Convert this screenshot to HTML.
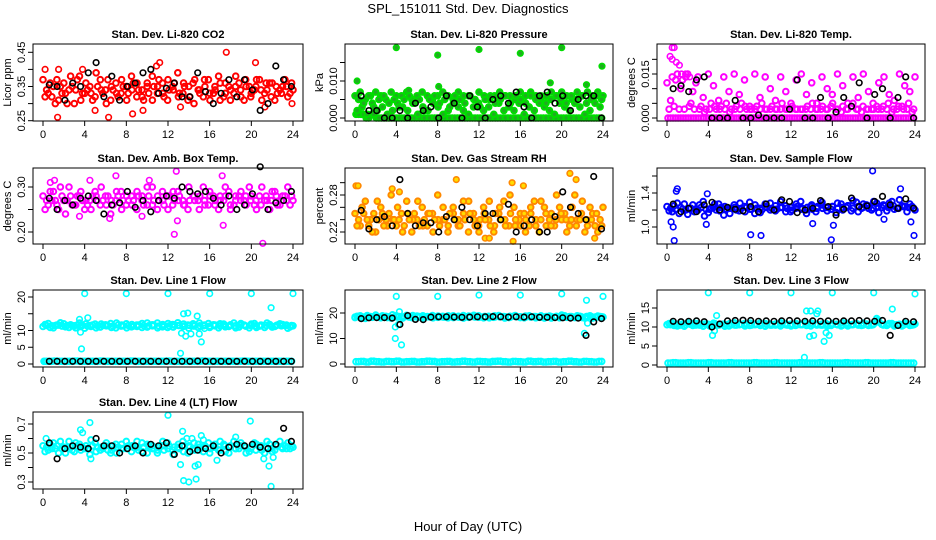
<!DOCTYPE html>
<html><head><meta charset="utf-8">
<style>
body{margin:0;background:#fff;}
svg{display:block;font-family:"Liberation Sans",sans-serif;}
</style></head>
<body>
<svg id="chart" width="936" height="540" viewBox="0 0 936 540" xmlns="http://www.w3.org/2000/svg">
<rect x="0" y="0" width="936" height="540" fill="#fff"/>
<text x="468" y="13" text-anchor="middle" font-size="13">SPL_151011  Std. Dev. Diagnostics</text>
<text x="468" y="531" text-anchor="middle" font-size="13">Hour of Day (UTC)</text>
</svg>
<script>
// x-axis ticks
const hourTicks = [0,4,8,12,16,20,24];
// ---- Panel 1: CO2
const co2A = [0.37,0.33,0.35,0.31,0.36,0.34,0.30,0.38,0.33,0.35,0.32,0.37,0.34,0.31,0.36,0.33,0.35,0.38,0.32,0.34,0.36,0.31,0.35,0.33,0.37,0.34,0.32,0.36,0.35,0.30,0.34,0.37,0.33,0.35,0.31,0.36,0.34,0.38,0.32,0.35,0.33,0.37,0.31,0.34,0.36,0.33,0.35,0.32,0.34];
const co2B = [0.32,0.36,0.30,0.35,0.33,0.38,0.34,0.31,0.36,0.33,0.39,0.34,0.30,0.35,0.33,0.37,0.31,0.34,0.36,0.32,0.35,0.38,0.33,0.36,0.31,0.35,0.39,0.33,0.31,0.36,0.34,0.32,0.37,0.33,0.38,0.32,0.35,0.33,0.36,0.31,0.35,0.34,0.37,0.33,0.36,0.31,0.34,0.37,0.33];
const co2C = [0.34,0.32,0.37,0.33,0.30,0.35,0.37,0.33,0.34,0.31,0.35,0.33,0.37,0.34,0.32,0.35,0.33,0.36,0.34,0.31,0.33,0.35,0.37,0.32,0.34,0.36,0.33,0.35,0.32,0.37,0.33,0.35,0.31,0.34,0.36,0.33,0.31,0.35,0.34,0.37,0.32,0.35,0.34,0.36,0.32,0.35,0.33,0.35,0.36];
const co2OutHours = [1.4,6.3,8.6,17.6,11.2,20.4,5.0,9.6,1.5,3.8,13.2,21.3,23.9,0.2,10.9];
const co2OutVals  = [0.26,0.26,0.27,0.45,0.42,0.42,0.28,0.28,0.40,0.40,0.29,0.29,0.30,0.40,0.41];
const co2Black = [0.355,0.35,0.31,0.36,0.35,0.39,0.42,0.32,0.38,0.31,0.35,0.36,0.39,0.40,0.33,0.345,0.36,0.32,0.32,0.39,0.335,0.30,0.33,0.37,0.32,0.37,0.34,0.28,0.30,0.41,0.37,0.35];
// ---- Panel 2: Pressure
const presA = [0.006,0.007,0.005,0.006,0.007,0.006,0.005,0.007,0.006,0.006,0.007,0.005,0.006,0.007,0.006,0.005,0.006,0.007,0.006,0.005,0.007,0.006,0.006,0.005,0.007,0.006,0.005,0.006,0.007,0.006,0.006,0.005,0.007,0.006,0.007,0.006,0.005,0.006,0.007,0.006,0.007,0.006,0.005,0.007,0.006,0.007,0.006,0.007,0.006];
const presB = [0.002,0.003,0.001,0.004,0.002,0.003,0.001,0.002,0.004,0.003,0.002,0.004,0.001,0.003,0.002,0.004,0.003,0.001,0.002,0.004,0.003,0.002,0.001,0.003,0.004,0.002,0.003,0.001,0.004,0.002,0.003,0.002,0.004,0.001,0.003,0.002,0.004,0.003,0.002,0.001,0.004,0.003,0.002,0.004,0.003,0.001,0.002,0.004,0.003];
const presC = [0.005,0.004,0.006,0.003,0.005,0.006,0.004,0.005,0.003,0.005,0.006,0.004,0.005,0.002,0.005,0.006,0.004,0.005,0.003,0.006,0.005,0.004,0.006,0.005,0.003,0.005,0.006,0.004,0.005,0.006,0.004,0.006,0.005,0.004,0.006,0.005,0.006,0.004,0.005,0.006,0.005,0.004,0.006,0.005,0.006,0.004,0.005,0.006,0.005];
const presZ = [0.001,0.001,0.000,0.001,0.000,0.000,0.000,0.000,0.000,0.000,0.000,0.000,0.000,0.000,0.000,0.000,0.000,0.000,0.000,0.000,0.000,0.000,0.000,0.000,0.000,0.000,0.000,0.000,0.000,0.000,0.000,0.000,0.000,0.000,0.000,0.000,0.000,0.000,0.000,0.000,0.000,0.000,0.000,0.000,0.000,0.000,0.000,0.000,0.000];
const presOutHours = [0.2,4.0,8.0,8.1,12.0,16.0,18.9,20.0,22.4,23.9,5.2];
const presOutVals  = [0.010,0.019,0.017,0.0085,0.0185,0.0175,0.0095,0.019,0.009,0.014,0.0075];
const presBlack = [0.006,0.002,0.002,0.000,0.000,0.002,0.000,0.004,0.002,0.003,0.000,0.006,0.004,0.000,0.006,0.003,0.000,0.005,0.006,0.004,0.007,0.003,0.000,0.006,0.007,0.004,0.006,0.002,0.005,0.006,0.006,0.000];
// ---- Panel 3: Li-820 Temp
const tempA = [0.012,0.014,0.015,0.013,0.015,0.009,0.014,0.007,0.015,0.011,0.006,0.014,0.009,0.015,0.008,0.013,0.004,0.015,0.007,0.014,0.010,0.006,0.014,0.009,0.005,0.013,0.015,0.008,0.012,0.005,0.014,0.010,0.008,0.015,0.011,0.005,0.014,0.007,0.015,0.009,0.003,0.012,0.014,0.008,0.006,0.015,0.011,0.009,0.014];
const tempB = [0.003,0.004,0.003,0.003,0.004,0.003,0.003,0.002,0.003,0.004,0.003,0.003,0.002,0.003,0.003,0.004,0.003,0.003,0.003,0.003,0.003,0.003,0.003,0.003,0.003,0.003,0.003,0.003,0.003,0.003,0.003,0.003,0.004,0.003,0.002,0.003,0.004,0.003,0.002,0.003,0.003,0.004,0.003,0.003,0.002,0.003,0.004,0.003,0.002];
const tempC = [0.006,0.013,0.010,0.014,0.005,0.012,0.004,0.003,0.005,0.003,0.004,0.005,0.003,0.004,0.005,0.003,0.003,0.004,0.005,0.003,0.004,0.003,0.005,0.003,0.004,0.003,0.003,0.004,0.005,0.003,0.004,0.003,0.005,0.003,0.004,0.003,0.005,0.003,0.004,0.003,0.005,0.003,0.004,0.005,0.003,0.004,0.003,0.005,0.003];
const tempZ = [0,0,0,0,0,0,0,0,0,0,0,0,0,0,0,0,0,0,0,0,0,0,0,0,0,0,0,0,0,0,0,0,0,0,0,0,0,0,0,0,0,0,0,0,0,0,0,0,0];
const tempOutHours = [0.5,0.7,0.3,0.5,0.9,1.2,1.0,1.4,1.8,2.2];
const tempOutVals  = [0.024,0.024,0.021,0.020,0.019,0.018,0.015,0.015,0.015,0.014];
const tempBlack = [0.010,0.011,0.009,0.013,0.014,0.000,0.000,0.000,0.006,0.000,0.000,0.001,0.000,0.000,0.000,0.003,0.013,0.000,0.000,0.007,0.000,0.002,0.007,0.004,0.012,0.000,0.008,0.010,0.000,0.007,0.014,0.000];
// ---- Panel 4: Amb Box Temp
const ambA = [0.28,0.26,0.29,0.25,0.27,0.30,0.26,0.28,0.25,0.27,0.29,0.26,0.28,0.24,0.27,0.29,0.26,0.28,0.25,0.27,0.30,0.26,0.28,0.27,0.25,0.29,0.27,0.26,0.30,0.28,0.25,0.27,0.29,0.26,0.28,0.30,0.25,0.27,0.29,0.26,0.28,0.25,0.30,0.27,0.29,0.26,0.28,0.30,0.27];
const ambB = [0.25,0.29,0.27,0.30,0.24,0.28,0.26,0.29,0.27,0.25,0.28,0.30,0.26,0.27,0.29,0.25,0.28,0.26,0.29,0.28,0.26,0.30,0.25,0.29,0.28,0.26,0.29,0.27,0.25,0.28,0.27,0.30,0.26,0.28,0.25,0.27,0.29,0.26,0.28,0.27,0.30,0.26,0.28,0.27,0.25,0.29,0.26,0.28,0.26];
const ambC = [0.27,0.27,0.26,0.28,0.27,0.26,0.28,0.27,0.26,0.28,0.27,0.27,0.28,0.26,0.28,0.27,0.27,0.27,0.28,0.26,0.28,0.27,0.27,0.26,0.28,0.27,0.28,0.26,0.27,0.27,0.28,0.26,0.28,0.27,0.27,0.28,0.26,0.28,0.27,0.28,0.27,0.27,0.26,0.28,0.27,0.28,0.27,0.27,0.28];
const ambOutHours = [0.7,1.1,4.5,6.4,7.0,10.2,12.6,12.8,12.9,17.2,17.3,21.1,3.5,9.5];
const ambOutVals  = [0.31,0.315,0.315,0.23,0.325,0.315,0.195,0.335,0.225,0.325,0.215,0.175,0.235,0.235];
const ambBlack = [0.275,0.25,0.27,0.26,0.275,0.28,0.27,0.24,0.26,0.265,0.29,0.255,0.27,0.245,0.27,0.28,0.275,0.30,0.29,0.285,0.29,0.275,0.26,0.28,0.25,0.26,0.285,0.345,0.25,0.265,0.27,0.29];
// ---- Panel 5: Gas Stream RH
const rhA = [0.25,0.23,0.27,0.24,0.22,0.26,0.24,0.28,0.23,0.25,0.27,0.22,0.24,0.26,0.23,0.25,0.28,0.24,0.22,0.26,0.23,0.25,0.27,0.24,0.22,0.25,0.27,0.23,0.26,0.24,0.28,0.23,0.25,0.22,0.26,0.24,0.27,0.23,0.25,0.28,0.24,0.22,0.26,0.24,0.27,0.23,0.25,0.22,0.26];
const rhB = [0.23,0.26,0.24,0.22,0.27,0.25,0.23,0.24,0.26,0.22,0.25,0.24,0.27,0.23,0.25,0.22,0.24,0.26,0.23,0.25,0.24,0.27,0.22,0.25,0.23,0.26,0.24,0.22,0.25,0.27,0.23,0.26,0.24,0.25,0.23,0.27,0.22,0.26,0.24,0.23,0.26,0.25,0.23,0.28,0.24,0.22,0.26,0.23,0.24];
const rhC = [0.24,0.25,0.23,0.25,0.24,0.23,0.25,0.24,0.24,0.23,0.24,0.25,0.23,0.24,0.25,0.24,0.23,0.24,0.25,0.24,0.23,0.24,0.25,0.23,0.24,0.24,0.23,0.25,0.24,0.23,0.25,0.24,0.23,0.24,0.25,0.23,0.24,0.25,0.23,0.24,0.25,0.24,0.24,0.23,0.25,0.24,0.24,0.25,0.23];
const rhOutHours = [0.1,0.3,3.6,9.8,15.2,15.3,12.6,13.0,20.8,21.4,23.2,4.3,16.3];
const rhOutVals  = [0.295,0.295,0.29,0.305,0.30,0.205,0.21,0.21,0.315,0.305,0.21,0.285,0.295];
const rhBlack = [0.255,0.225,0.24,0.245,0.23,0.305,0.25,0.23,0.235,0.235,0.22,0.245,0.24,0.26,0.24,0.23,0.25,0.25,0.24,0.265,0.22,0.23,0.24,0.22,0.22,0.245,0.285,0.26,0.25,0.24,0.31,0.225];
// ---- Panel 6: Sample Flow
const sampA = [1.24,1.18,1.28,1.21,1.15,1.26,1.2,1.3,1.17,1.23,1.27,1.14,1.22,1.26,1.19,1.24,1.29,1.16,1.22,1.27,1.2,1.25,1.3,1.18,1.23,1.27,1.21,1.16,1.26,1.22,1.29,1.19,1.24,1.28,1.2,1.25,1.31,1.18,1.27,1.22,1.3,1.17,1.25,1.28,1.21,1.32,1.24,1.27,1.2];
const sampB = [1.19,1.25,1.16,1.27,1.22,1.18,1.26,1.13,1.21,1.27,1.19,1.24,1.16,1.23,1.28,1.18,1.21,1.26,1.17,1.24,1.28,1.19,1.23,1.25,1.18,1.22,1.3,1.2,1.24,1.18,1.26,1.23,1.21,1.17,1.27,1.23,1.19,1.29,1.22,1.26,1.2,1.28,1.23,1.19,1.3,1.22,1.25,1.18,1.24];
const sampC = [1.22,1.21,1.23,1.2,1.22,1.21,1.23,1.21,1.22,1.2,1.23,1.21,1.22,1.2,1.22,1.23,1.21,1.22,1.2,1.23,1.22,1.21,1.23,1.22,1.2,1.24,1.22,1.23,1.21,1.24,1.22,1.23,1.24,1.22,1.23,1.25,1.22,1.24,1.23,1.25,1.22,1.24,1.26,1.23,1.25,1.22,1.24,1.23,1.22];
const sampOutHours = [0.7,0.6,0.4,1.0,0.9,3.9,3.8,8.1,9.1,15.9,16.1,19.9,22.6,23.6,23.9,21.0,14.1];
const sampOutVals  = [0.84,1.0,1.06,1.45,1.42,1.39,1.03,0.91,0.9,0.85,1.02,1.66,1.45,1.06,0.9,1.09,1.04];
const sampBlack = [1.27,1.18,1.22,1.18,1.26,1.29,1.2,1.23,1.21,1.19,1.24,1.18,1.27,1.2,1.32,1.3,1.17,1.2,1.22,1.31,1.24,1.14,1.21,1.34,1.24,1.25,1.3,1.36,1.26,1.22,1.33,1.22];
// ---- Panel 7: Line 1 Flow
const l1A = [11.2,12.1,10.8,11.6,12.0,10.9,11.4,12.2,10.7,11.5,11.9,11.0,11.7,12.1,10.8,11.3,12.0,11.1,11.6,10.9,12.2,11.4,10.8,11.8,12.1,11.0,11.5,11.9,10.7,11.3,12.2,11.6,10.9,11.4,12.0,11.1,11.7,10.8,12.1,11.3,11.9,10.9,11.5,12.2,11.0,11.6,11.8,10.7,11.4];
const l1B = [11.8,10.9,11.5,12.3,11.1,11.7,10.8,11.3,12.0,11.2,10.8,11.9,11.4,10.9,12.2,11.6,10.8,11.8,11.2,12.1,11.0,11.7,12.2,11.1,10.9,11.8,12.3,11.2,11.6,12.0,10.9,11.4,12.1,11.7,10.8,11.9,11.2,12.2,11.0,11.6,10.8,12.1,11.3,10.9,11.8,11.2,12.0,11.5,11.1];
const l1C = [11.5,11.4,11.6,11.3,11.5,11.4,11.6,11.5,11.3,11.6,11.4,11.5,11.5,11.3,11.6,11.4,11.5,11.3,11.6,11.5,11.4,11.6,11.3,11.5,11.4,11.6,11.5,11.3,11.5,11.6,11.4,11.5,11.3,11.6,11.4,11.5,11.5,11.4,11.6,11.3,11.5,11.4,11.6,11.5,11.3,11.5,11.4,11.6,11.5];
const l1Z = [0.8,0.8,0.9,0.8,0.8,0.8,0.9,0.8,0.8,0.8,0.8,0.9,0.8,0.8,0.8,0.8,0.8,0.9,0.8,0.8,0.8,0.8,0.8,0.8,0.9,0.8,0.8,0.8,0.8,0.8,0.8,0.9,0.8,0.8,0.8,0.8,0.8,0.8,0.8,0.9,0.8,0.8,0.8,0.8,0.8,0.8,0.8,0.8,0.8];
const l1OutHours = [0.2,3.7,3.6,3.5,4.3,4.0,8.0,12.0,16.0,20.0,24.0,13.2,13.5,13.9,13.3,13.7,14.2,14.8,15.2,15.0,21.9,15.5];
const l1OutVals  = [0.8,4.5,9.5,13.3,13.8,21,21,21,21,21,21,3.2,15,15.2,9.2,8.3,9.0,14.3,6.6,9.0,16.8,10.6];
const l1Black = [0.8,0.8,0.8,0.8,0.8,0.8,0.8,0.8,0.8,0.8,0.8,0.8,0.8,0.8,0.8,0.8,0.8,0.8,0.8,0.9,0.8,0.8,0.8,0.8,0.8,0.8,0.8,0.8,0.8,0.8,0.8,0.8];
// ---- Panel 8: Line 2 Flow
const l2A = [18.2,18.9,17.9,18.6,19.2,18.1,18.7,18.0,18.9,18.4,19.1,18.2,18.8,18.0,18.6,19.0,18.3,18.7,18.1,18.9,18.4,18.0,18.8,19.1,18.3,18.6,18.1,18.9,18.5,18.0,18.7,19.0,18.2,18.8,18.4,18.1,18.9,18.6,18.0,18.7,19.2,18.3,18.5,18.9,18.2,18.6,18.0,18.8,18.4];
const l2B = [18.7,18.0,19.0,18.3,18.5,18.9,18.2,19.3,18.4,18.0,18.6,19.0,18.3,18.9,18.5,18.1,18.8,18.4,18.9,18.2,18.7,19.0,18.3,18.6,18.9,18.1,18.7,18.3,19.0,18.6,18.2,18.8,18.5,18.1,18.9,18.6,18.3,18.0,18.8,18.4,18.1,18.9,18.6,18.2,18.7,18.0,18.9,18.4,18.6];
const l2C = [18.5,18.4,18.6,18.5,18.3,18.6,18.5,18.4,18.6,18.5,18.4,18.5,18.6,18.4,18.5,18.6,18.5,18.4,18.6,18.5,18.4,18.5,18.6,18.4,18.5,18.6,18.4,18.5,18.6,18.5,18.4,18.6,18.5,18.4,18.5,18.6,18.4,18.5,18.6,18.5,18.4,18.5,18.6,18.4,18.5,18.6,18.5,18.4,18.5];
const l2Z = [0.9,1.0,0.8,1.1,0.9,0.8,1.0,0.9,1.1,0.8,0.9,1.0,0.8,0.9,1.1,1.0,0.8,0.9,1.0,0.8,0.9,1.1,0.9,0.8,1.0,0.9,0.8,1.0,1.1,0.9,0.8,1.0,0.9,0.8,1.1,0.9,1.0,0.8,0.9,1.0,0.8,0.9,1.1,0.9,0.8,1.0,0.9,0.8,1.0];
const l2OutHours = [3.9,3.9,4.0,4.2,4.3,4.5,8.0,12.0,16.0,20.0,22.4,22.2,22.5,24.0,0.0];
const l2OutVals  = [14.5,10,26.5,15.5,20.5,7.5,26.5,27,27,27.5,25,12,16,26.5,18.5];
const l2Black = [17.8,18.1,18.2,18.2,18.0,15.5,19.0,17.5,17.4,18.4,18.5,18.5,18.4,18.3,18.4,18.5,18.5,18.6,18.5,18.4,18.5,18.4,18.5,18.3,18.3,18.2,18.1,18.0,18.0,11.2,16.5,17.8];
// ---- Panel 9: Line 3 Flow
const l3A = [10.6,11.0,10.3,10.8,11.1,10.4,10.9,10.2,10.7,11.0,10.5,10.8,10.3,11.1,10.6,10.9,10.4,10.7,11.0,10.2,10.8,10.5,11.1,10.6,10.3,10.9,10.7,10.4,11.0,10.5,10.8,10.2,10.9,10.6,11.1,10.3,10.7,10.5,11.0,10.4,10.8,11.3,10.6,10.9,10.3,10.7,11.0,10.4,10.8];
const l3B = [10.9,10.4,10.7,10.2,10.8,11.0,10.5,10.8,10.3,10.9,10.6,10.2,10.9,10.5,10.7,10.3,11.0,10.6,10.4,10.9,10.5,10.8,10.3,10.9,10.7,10.4,10.6,11.0,10.3,10.8,10.5,10.9,10.4,10.7,10.3,11.0,10.6,10.9,10.4,10.8,10.5,12.2,10.7,10.4,10.9,10.6,10.3,10.8,10.5];
const l3C = [10.6,10.7,10.5,10.6,10.7,10.5,10.6,10.7,10.6,10.5,10.7,10.6,10.6,10.5,10.7,10.6,10.5,10.7,10.6,10.6,10.5,10.7,10.6,10.5,10.7,10.6,10.6,10.5,10.7,10.6,10.5,10.6,10.7,10.6,10.5,10.7,10.6,10.6,10.5,10.7,10.6,11.8,10.5,10.7,10.6,10.6,10.5,10.7,10.6];
const l3Z = [0.5,0.6,0.5,0.5,0.6,0.5,0.5,0.5,0.6,0.5,0.5,0.5,0.6,0.5,0.5,0.5,0.5,0.6,0.5,0.5,0.5,0.6,0.5,0.5,0.5,0.5,0.6,0.5,0.5,0.5,0.6,0.5,0.5,0.5,0.5,0.6,0.5,0.5,0.5,0.6,0.5,0.5,0.5,0.5,0.6,0.5,0.5,0.5,0.5];
const l3OutHours = [4.0,8.0,12.0,16.0,20.0,24.0,4.4,4.6,4.8,13.3,13.5,13.9,14.5,14.6,13.8,14.2,15.2,15.4,15.7,21.8];
const l3OutVals  = [19,19,19,19,19,18.7,7.8,9,13,2,14.2,14.2,13.5,14.2,7.5,7.8,6.2,8.5,7.8,14.7];
const l3Black = [11.5,11.4,11.5,11.6,11.4,10.0,10.8,11.6,11.7,11.8,11.7,11.5,11.6,11.5,11.6,11.7,11.6,11.5,11.6,11.5,11.6,11.5,11.6,11.6,11.7,11.6,11.5,11.7,7.8,10.4,11.5,11.4];
// ---- Panel 10: Line 4 (LT) Flow
const l4A = [0.55,0.52,0.57,0.50,0.54,0.58,0.51,0.56,0.53,0.49,0.57,0.52,0.55,0.50,0.56,0.53,0.58,0.51,0.54,0.57,0.50,0.55,0.52,0.58,0.53,0.49,0.56,0.51,0.55,0.57,0.52,0.54,0.50,0.56,0.58,0.51,0.55,0.53,0.57,0.50,0.54,0.56,0.52,0.58,0.51,0.55,0.53,0.57,0.54];
const l4B = [0.51,0.56,0.53,0.58,0.50,0.54,0.57,0.52,0.55,0.59,0.51,0.54,0.57,0.52,0.50,0.56,0.53,0.55,0.58,0.51,0.56,0.53,0.50,0.55,0.57,0.52,0.54,0.58,0.50,0.53,0.56,0.51,0.57,0.54,0.52,0.56,0.50,0.58,0.53,0.55,0.51,0.57,0.54,0.50,0.56,0.52,0.58,0.55,0.53];
const l4C = [0.54,0.53,0.55,0.53,0.54,0.52,0.55,0.54,0.53,0.55,0.54,0.53,0.52,0.55,0.54,0.53,0.55,0.54,0.52,0.54,0.55,0.53,0.54,0.52,0.55,0.54,0.53,0.55,0.54,0.52,0.54,0.55,0.53,0.54,0.52,0.55,0.54,0.53,0.55,0.54,0.53,0.52,0.55,0.54,0.53,0.55,0.54,0.53,0.55];
const l4OutHours = [0.3,3.6,3.8,4.5,4.6,12.0,13.2,13.4,13.5,14.0,13.8,14.3,14.7,14.6,14.9,15.2,15.4,16.7,18.5,19.9,21.2,21.7,21.9,22.1];
const l4OutVals  = [0.60,0.66,0.64,0.71,0.46,0.76,0.42,0.65,0.31,0.30,0.60,0.60,0.32,0.41,0.42,0.62,0.59,0.45,0.61,0.72,0.46,0.41,0.27,0.47];
const l4Black = [0.57,0.46,0.53,0.55,0.54,0.53,0.60,0.55,0.55,0.50,0.53,0.55,0.50,0.56,0.55,0.57,0.49,0.55,0.51,0.52,0.53,0.55,0.50,0.54,0.56,0.55,0.56,0.54,0.53,0.56,0.67,0.58];

const svg = document.getElementById('chart');
const NS = 'http://www.w3.org/2000/svg';
function mk(tag, attrs){ const e=document.createElementNS(NS,tag); for(const k in attrs) e.setAttribute(k,attrs[k]); return e; }

const colX0 = [43,355,667], colX24 = [293,603,915];
const rowTop = [44,168,290,412], rowBot = [121,244,367,489];

const panels = [
 {key:'co2', title:'Stan. Dev. Li-820 CO2', ylab:'Licor ppm', c:0,r:0, ref:[0.25,120.7,0.45,52.3], ticks:[0.25,0.30,0.35,0.40,0.45], labels:['0.25','','0.35','','0.45'], col:'#ff0000', fill:'none', A:co2A,B:co2B,C:co2C,Z:null, oh:co2OutHours, ov:co2OutVals, K:co2Black},
 {key:'pressure', title:'Stan. Dev. Li-820 Pressure', ylab:'kPa', c:1,r:0, ref:[0,118,0.01,81], ticks:[0,0.005,0.01,0.015], labels:['0.000','','0.010',''], col:'#00dd00', fill:'#22aa22', A:presA,B:presB,C:presC,Z:presZ, oh:presOutHours, ov:presOutVals, K:presBlack},
 {key:'li820-temp', title:'Stan. Dev. Li-820 Temp.', ylab:'degrees C', c:2,r:0, ref:[0,118,0.015,74], ticks:[0,0.005,0.01,0.015,0.02], labels:['0.000','','','0.015',''], col:'#ff00ff', fill:'none', A:tempA,B:tempB,C:tempC,Z:tempZ, oh:tempOutHours, ov:tempOutVals, K:tempBlack},
 {key:'amb-box-temp', title:'Stan. Dev. Amb. Box Temp.', ylab:'degrees C', c:0,r:1, ref:[0.20,232,0.30,187], ticks:[0.20,0.25,0.30], labels:['0.20','','0.30'], col:'#ff00ff', fill:'none', A:ambA,B:ambB,C:ambC,Z:null, oh:ambOutHours, ov:ambOutVals, K:ambBlack},
 {key:'gas-stream-rh', title:'Stan. Dev. Gas Stream RH', ylab:'percent', c:1,r:1, ref:[0.22,232,0.28,195], ticks:[0.22,0.24,0.26,0.28,0.30], labels:['0.22','','','0.28',''], col:'#ff8800', fill:'#ffdd00', A:rhA,B:rhB,C:rhC,Z:null, oh:rhOutHours, ov:rhOutVals, K:rhBlack},
 {key:'sample-flow', title:'Stan. Dev. Sample Flow', ylab:'ml/min', c:2,r:1, ref:[1.0,227,1.4,193], ticks:[1.0,1.2,1.4,1.6], labels:['1.0','','1.4',''], col:'#0000ff', fill:'none', A:sampA,B:sampB,C:sampC,Z:null, oh:sampOutHours, ov:sampOutVals, K:sampBlack},
 {key:'line1-flow', title:'Stan. Dev. Line 1 Flow', ylab:'ml/min', c:0,r:2, ref:[0,364,20,297], ticks:[0,5,10,15,20], labels:['0','5','10','','20'], col:'#00ffff', fill:'none', A:l1A,B:l1B,C:l1C,Z:l1Z, oh:l1OutHours, ov:l1OutVals, K:l1Black},
 {key:'line2-flow', title:'Stan. Dev. Line 2 Flow', ylab:'ml/min', c:1,r:2, ref:[0,364,20,313], ticks:[0,10,20], labels:['0','10','20'], col:'#00ffff', fill:'none', A:l2A,B:l2B,C:l2C,Z:l2Z, oh:l2OutHours, ov:l2OutVals, K:l2Black},
 {key:'line3-flow', title:'Stan. Dev. Line 3 Flow', ylab:'ml/min', c:2,r:2, ref:[0,365,15,308], ticks:[0,5,10,15], labels:['0','5','10','15'], col:'#00ffff', fill:'none', A:l3A,B:l3B,C:l3C,Z:l3Z, oh:l3OutHours, ov:l3OutVals, K:l3Black},
 {key:'line4-flow', title:'Stan. Dev. Line 4 (LT) Flow', ylab:'ml/min', c:0,r:3, ref:[0.3,482,0.7,424], ticks:[0.3,0.4,0.5,0.6,0.7], labels:['0.3','','0.5','','0.7'], col:'#00ffff', fill:'none', A:l4A,B:l4B,C:l4C,Z:null, oh:l4OutHours, ov:l4OutVals, K:l4Black}
];

panels.forEach(p=>{
  const x0=colX0[p.c], x24=colX24[p.c], top=rowTop[p.r], bot=rowBot[p.r];
  const xs = h => x0 + (x24-x0)*h/24;
  const ys = v => p.ref[1] + (v-p.ref[0])*(p.ref[3]-p.ref[1])/(p.ref[2]-p.ref[0]);
  const g = mk('g',{});
  
  
  svg.appendChild(g);

  const t = mk('text',{x:(x0+x24)/2, y:top-6, 'text-anchor':'middle','font-size':'11','font-weight':'bold'});
  t.textContent = p.title;
  
  
  g.appendChild(t);

  function dot(h,v,stroke,fill,sw,name){
    const c = mk('circle',{cx:xs(h).toFixed(1), cy:ys(v).toFixed(1), r:'2.8', fill:fill, stroke:stroke, 'stroke-width':sw});
    
    
    g.appendChild(c);
  }
  if(p.Z){
    p.Z.forEach((v,i)=>dot(0.1+i*0.49, v, p.col, p.fill, '2', 'point-'+p.key));
    p.Z.forEach((v,i)=>dot(0.35+i*0.49, v, p.col, p.fill, '2', 'point-'+p.key));
  }
  p.A.forEach((v,i)=>dot(i*0.5, v, p.col, p.fill, '2', 'point-'+p.key));
  p.B.forEach((v,i)=>dot(0.2+i*0.49, v, p.col, p.fill, '2', 'point-'+p.key));
  p.C.forEach((v,i)=>dot(0.35+i*0.49, v, p.col, p.fill, '2', 'point-'+p.key));
  p.oh.forEach((h,i)=>dot(h, p.ov[i], p.col, p.fill, '1.6', 'outlier-'+p.key));
  p.K.forEach((v,i)=>dot(0.6+i*0.75, v, '#000', 'none', '1.6', 'black-point-'+p.key));

  const box = mk('rect',{x:x0-10, y:top, width:(x24-x0)+20, height:bot-top, fill:'none', stroke:'#000','stroke-width':'1'});
  
  
  g.appendChild(box);

  const xa = mk('g',{});
  
  
  g.appendChild(xa);
  xa.appendChild(mk('line',{x1:x0,x2:x24,y1:bot,y2:bot,stroke:'#000'}));
  hourTicks.forEach(h=>{
    xa.appendChild(mk('line',{x1:xs(h),x2:xs(h),y1:bot,y2:bot+5,stroke:'#000'}));
    const tl = mk('text',{x:xs(h), y:bot+17, 'text-anchor':'middle','font-size':'11'});
    tl.textContent = h;
    
    
    xa.appendChild(tl);
  });
  const ya = mk('g',{});
  
  
  g.appendChild(ya);
  const L = x0-10;
  ya.appendChild(mk('line',{x1:L,x2:L,y1:ys(p.ticks[0]),y2:ys(p.ticks[p.ticks.length-1]),stroke:'#000'}));
  p.ticks.forEach((v,i)=>{
    const y = ys(v);
    ya.appendChild(mk('line',{x1:L-5,x2:L,y1:y,y2:y,stroke:'#000'}));
    if(p.labels[i]){
      const tl = mk('text',{x:0,y:0,'text-anchor':'middle','font-size':'11',transform:`translate(${L-8},${y}) rotate(-90)`});
      tl.textContent = p.labels[i];
      
      
      ya.appendChild(tl);
    }
  });
  const yl = mk('text',{x:0,y:0,'text-anchor':'middle','font-size':'11',transform:`translate(${L-22},${(top+bot)/2}) rotate(-90)`});
  yl.textContent = p.ylab;
  
  
  ya.appendChild(yl);
});
</script>
</body></html>
